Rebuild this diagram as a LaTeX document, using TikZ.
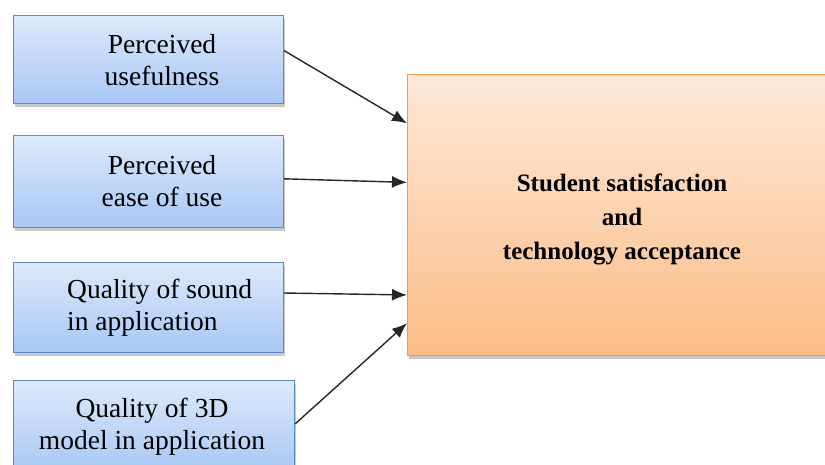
\documentclass[tikz,border=0pt]{standalone}
\usepackage{fontspec}
\setmainfont{Liberation Serif}
\newfontfamily\tnr{Liberation Serif}
\usetikzlibrary{shadows,arrows.meta,calc}
\definecolor{bluetop}{HTML}{DDE9FC}
\definecolor{bluebot}{HTML}{A8C7F4}
\definecolor{blueline}{HTML}{5A88CC}
\definecolor{ortop}{HTML}{FDE8D8}
\definecolor{orbot}{HTML}{FCBD88}
\definecolor{orline}{HTML}{F79646}
\tikzset{
  inbox/.style={draw=blueline, line width=1.2pt, top color=bluetop, bottom color=bluebot,
    inner sep=0pt, anchor=north west, drop shadow={shadow xshift=1.5pt, shadow yshift=-3pt, opacity=0.3, fill=black!70}},
  outbox/.style={draw=orline, line width=1.2pt, top color=ortop, bottom color=orbot,
    inner sep=0pt, anchor=north west, drop shadow={shadow xshift=1.5pt, shadow yshift=-3pt, opacity=0.3, fill=black!70}},
  lbl/.style={font=\tnr\fontsize{27.5}{32}\selectfont, align=center, inner sep=0pt},
  lblb/.style={font=\tnr\bfseries\fontsize{25}{34}\selectfont, align=center, inner sep=0pt},
  arr/.style={-{Latex[length=15pt,width=12pt]}, line width=1.4pt, black!85}
}
\begin{document}
\begin{tikzpicture}[x=1pt,y=-1pt]
\clip (0,0) rectangle (825,464);
\fill[white] (0,0) rectangle (825,464);
\node[inbox, minimum width=270pt, minimum height=88pt] (b1) at (13,15) {};
\node[inbox, minimum width=270pt, minimum height=92pt] (b2) at (13,135) {};
\node[inbox, minimum width=270pt, minimum height=90pt] (b3) at (13,262) {};
\node[inbox, minimum width=281pt, minimum height=92pt] (b4) at (13,380) {};
\node[outbox, minimum width=430pt, minimum height=281pt] (big) at (407,74) {};
\node[lbl] (t1) at (162,60) {Perceived\\usefulness};
\node[lbl] (t2) at (162,181) {Perceived\\ease of use};
\node[lbl, align=left, anchor=west] (t3) at (67,308) {Quality of sound\\in application};
\node[lbl] (t4) at (152,427) {Quality of 3D\\model in application};
\node[lblb] (tb) at (622,219) {Student satisfaction\\and\\technology acceptance};
\draw[arr] ($(b1.north east)!0.4!(b1.south east)$) -- ($(big.north west)!0.175!(big.south west)$);
\draw[arr] ($(b2.north east)!0.47!(b2.south east)$) -- ($(big.north west)!0.384!(big.south west)$);
\draw[arr] ($(b3.north east)!0.34!(b3.south east)$) -- ($(big.north west)!0.783!(big.south west)$);
\draw[arr] ($(b4.north east)!0.47!(b4.south east)$) -- ($(big.north west)!0.883!(big.south west)$);
\end{tikzpicture}
\end{document}
